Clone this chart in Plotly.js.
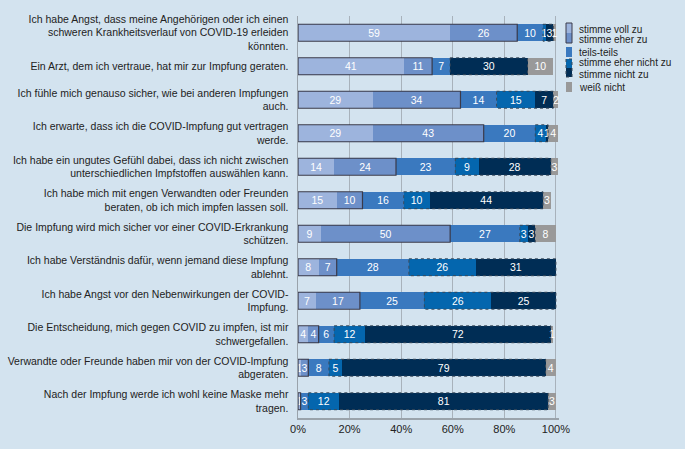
<!DOCTYPE html>
<html><head><meta charset="utf-8">
<script src="https://cdn.plot.ly/plotly-3.0.1.min.js"></script>
<style>html,body{margin:0;padding:0;background:#d3e3ef;}</style>
</head><body>
<div id="chart" style="width:685px;height:449px;"></div>
<script>
const categories = [
  "Ich habe Angst, dass meine Angehörigen oder ich einen<br>schweren Krankheitsverlauf von COVID-19 erleiden<br>könnten.",
  "Ein Arzt, dem ich vertraue, hat mir zur Impfung geraten.",
  "Ich fühle mich genauso sicher, wie bei anderen Impfungen<br>auch.",
  "Ich erwarte, dass ich die COVID-Impfung gut vertragen<br>werde.",
  "Ich habe ein ungutes Gefühl dabei, dass ich nicht zwischen<br>unterschiedlichen Impfstoffen auswählen kann.",
  "Ich habe mich mit engen Verwandten oder Freunden<br>beraten, ob ich mich impfen lassen soll.",
  "Die Impfung wird mich sicher vor einer COVID-Erkrankung<br>schützen.",
  "Ich habe Verständnis dafür, wenn jemand diese Impfung<br>ablehnt.",
  "Ich habe Angst vor den Nebenwirkungen der COVID-<br>Impfung.",
  "Die Entscheidung, mich gegen COVID zu impfen, ist mir<br>schwergefallen.",
  "Verwandte oder Freunde haben mir von der COVID-Impfung<br>abgeraten.",
  "Nach der Impfung werde ich wohl keine Maske mehr<br>tragen."
];
const vollZu      = [59, 41, 29, 29, 14, 15,  9,  8,  7,  4,  1,  1];
const eherZu      = [26, 11, 34, 43, 24, 10, 50,  7, 17,  4,  3,  0];
const teilsTeils  = [10,  7, 14, 20, 23, 16, 27, 28, 25,  6,  8,  3];
const eherNicht   = [ 1,  0, 15,  4,  9, 10,  3, 26, 26, 12,  5, 12];
const nichtZu     = [ 3, 30,  7,  1, 28, 44,  3, 31, 25, 72, 79, 81];
const weissNicht  = [ 1, 10,  2,  4,  3,  3,  8,  0,  0,  1,  4,  3];
const seriesNames = ["stimme voll zu","stimme eher zu","teils-teils","stimme eher nicht zu","stimme nicht zu","weiß nicht"];
const tickVals = [0, 20, 40, 60, 80, 100];
const tickText = ["0%","20%","40%","60%","80%","100%"];

const seriesValues = [vollZu, eherZu, teilsTeils, eherNicht, nichtZu, weissNicht];
const colors = ["#9db4dd","#6d90c9","#3a79bf","#0466ae","#002d55","#999999"];

const traces = seriesValues.map((vals, k) => ({
  type: "bar",
  orientation: "h",
  name: seriesNames[k],
  y: categories,
  x: vals,
  text: vals.map(v => v > 0 ? String(v) : ""),
  textposition: "inside",
  insidetextanchor: "middle",
  textangle: 0,
  textfont: {color: "#ffffff", size: 10.5, family: "Liberation Sans, Arial, sans-serif"},
  marker: {color: colors[k], line: {width: 0}},
  hoverinfo: "none"
}));

// outline shapes computed from the data
const shapes = [];
const half = 0.253;
categories.forEach((c, i) => {
  const agree = vollZu[i] + eherZu[i];
  if (agree > 0) shapes.push({type: "rect", xref: "x", yref: "y", x0: 0, x1: agree, y0: i - half, y1: i + half,
    line: {color: "#3a3a4a", width: 1.2}, fillcolor: "rgba(0,0,0,0)", layer: "above"});
  const start = agree + teilsTeils[i];
  const dis = eherNicht[i] + nichtZu[i];
  if (dis > 0) shapes.push({type: "rect", xref: "x", yref: "y", x0: start, x1: start + dis, y0: i - half, y1: i + half,
    line: {color: "#3a4a5a", width: 1, dash: "dot"}, fillcolor: "rgba(0,0,0,0)", layer: "above"});
});

// custom legend (paper coordinates derived from plot area pixels)
const W = 685, H = 449, mL = 298, mR = 126, mT = 16, mB = 31;
const pw = W - mL - mR, ph = H - mT - mB;
const px = x => (x - mL) / pw;
const py = y => (H - mB - y) / ph;
const annotations = [];
const sw0 = 566, sw1 = 572, tx = 577;
shapes.push({type:"rect", xref:"paper", yref:"paper", x0:px(sw0), x1:px(sw1), y0:py(33), y1:py(23), fillcolor:colors[0], line:{width:0}});
shapes.push({type:"rect", xref:"paper", yref:"paper", x0:px(sw0), x1:px(sw1), y0:py(43), y1:py(33), fillcolor:colors[1], line:{width:0}});
shapes.push({type:"rect", xref:"paper", yref:"paper", x0:px(sw0), x1:px(sw1), y0:py(43), y1:py(23), fillcolor:"rgba(0,0,0,0)", line:{color:"#3a3a4a", width:1}});
shapes.push({type:"rect", xref:"paper", yref:"paper", x0:px(sw0), x1:px(sw1), y0:py(57), y1:py(47), fillcolor:colors[2], line:{width:0}});
shapes.push({type:"rect", xref:"paper", yref:"paper", x0:px(sw0), x1:px(sw1), y0:py(68), y1:py(59), fillcolor:colors[3], line:{width:0}});
shapes.push({type:"rect", xref:"paper", yref:"paper", x0:px(sw0), x1:px(sw1), y0:py(77), y1:py(68), fillcolor:colors[4], line:{width:0}});
shapes.push({type:"rect", xref:"paper", yref:"paper", x0:px(sw0), x1:px(sw1), y0:py(77), y1:py(59), fillcolor:"rgba(0,0,0,0)", line:{color:"#3a4a5a", width:1, dash:"dot"}});
shapes.push({type:"rect", xref:"paper", yref:"paper", x0:px(sw0), x1:px(sw1), y0:py(92), y1:py(82), fillcolor:colors[5], line:{width:0}});
const legendY = [29, 40, 52, 63, 74, 88];
seriesNames.forEach((n, k) => {
  annotations.push({xref:"paper", yref:"paper", x:px(tx), y:py(legendY[k]), text:n, showarrow:false,
    xanchor:"left", yanchor:"middle", font:{size:10, color:"#222", family:"Liberation Sans, Arial, sans-serif"}});
});

const layout = {
  width: W, height: H,
  barmode: "stack",
  bargap: 0.49,
  paper_bgcolor: "#d3e3ef",
  plot_bgcolor: "#d3e3ef",
  margin: {l: mL, r: mR, t: mT, b: mB},
  font: {family: "Liberation Sans, Arial, sans-serif", color: "#222222", size: 10.5},
  showlegend: false,
  xaxis: {range: [0, 101.2], tickvals: tickVals, ticktext: tickText, showgrid: true,
    gridcolor: "#a8b2bb", gridwidth: 1, zeroline: false, showline: true, linecolor: "#9aa3ab",
    linewidth: 1.5, ticks: "", tickfont: {size: 11, color: "#222"}, fixedrange: true},
  yaxis: {autorange: "reversed", showline: true, linecolor: "#9aa3ab", linewidth: 1.5, ticks: "",
    tickfont: {size: 10.5, color: "#222"}, ticklabelstandoff: 6, fixedrange: true},
  shapes: shapes,
  annotations: annotations,
  uniformtext: {minsize: 10.5, mode: "show"}
};

Plotly.newPlot("chart", traces, layout, {displayModeBar: false, staticPlot: true});
</script>
</body></html>
